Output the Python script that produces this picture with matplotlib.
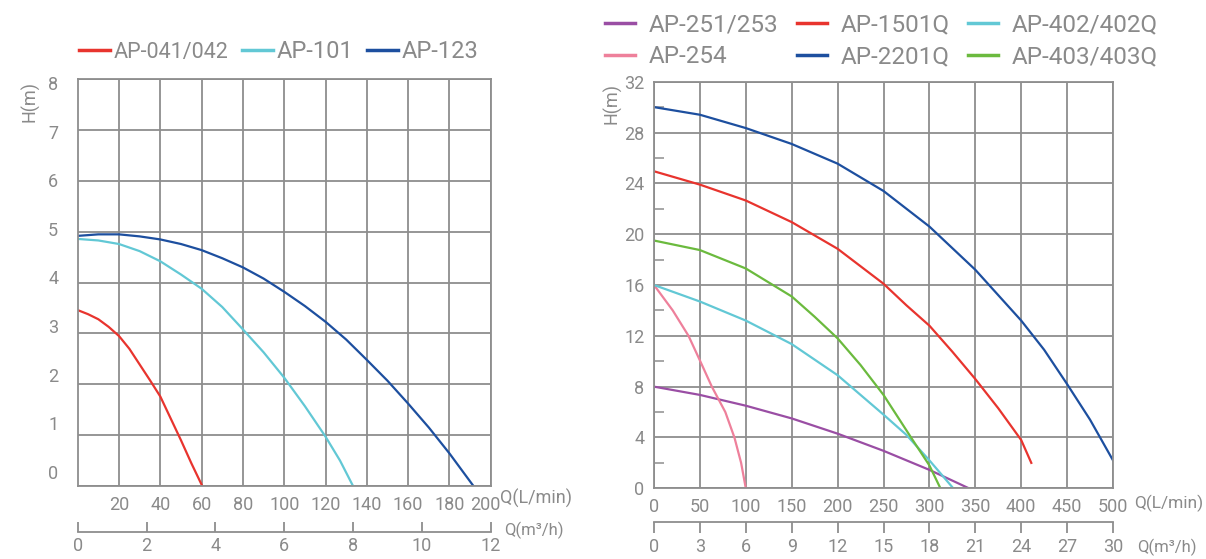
import matplotlib
matplotlib.use("Agg")
import matplotlib.pyplot as plt
import matplotlib.transforms as mtransforms

plt.rcParams['font.family'] = ['Roboto', 'DejaVu Sans']

GRAY_TXT = '#8a8a8a'
GRAY_GRID = '#8e8e8e'

# ---- left chart data (Q in L/min, H in m)
q_041 = [0, 5, 10, 15, 20, 25, 30, 35, 40, 45, 50, 55, 60.3]
h_041 = [3.46, 3.38, 3.28, 3.13, 2.95, 2.70, 2.39, 2.08, 1.76, 1.33, 0.9, 0.45, 0]
q_101 = [0, 10, 20, 30, 40, 50, 60, 70, 80, 90, 100, 110, 120, 127, 133.3]
h_101 = [4.86, 4.83, 4.76, 4.62, 4.42, 4.16, 3.88, 3.52, 3.08, 2.63, 2.13, 1.57, 0.97, 0.5, 0]
q_123 = [0, 10, 20, 30, 40, 50, 60, 70, 80, 90, 100, 110, 120, 130, 140, 150,
         160, 170, 180, 191.6]
h_123 = [4.92, 4.95, 4.95, 4.91, 4.85, 4.76, 4.64, 4.48, 4.30, 4.08, 3.82, 3.54,
         3.23, 2.88, 2.48, 2.07, 1.62, 1.15, 0.64, 0]

# ---- right chart data
q_251 = [0, 50, 100, 150, 200, 250, 300, 343]
h_251 = [8.0, 7.35, 6.5, 5.5, 4.3, 2.95, 1.45, 0]
q_254 = [0, 20.4, 37.6, 50.4, 63, 77.7, 87.6, 94.9, 100]
h_254 = [16.0, 14, 12, 10, 8, 6, 4, 2, 0]
q_1501 = [0, 50, 100, 150, 200, 250, 275, 300, 325, 350, 375, 400, 411]
h_1501 = [24.95, 23.9, 22.65, 20.95, 18.85, 16.1, 14.4, 12.8, 10.75, 8.6, 6.3, 3.8, 2.0]
q_2201 = [0, 50, 100, 150, 200, 250, 300, 350, 400, 425, 450, 475, 500]
h_2201 = [30.0, 29.4, 28.35, 27.1, 25.55, 23.4, 20.6, 17.2, 13.2, 10.9, 8.2, 5.4, 2.2]
q_402 = [0, 50, 100, 150, 200, 250, 275, 300, 326]
h_402 = [16.0, 14.7, 13.2, 11.35, 8.9, 5.8, 4.2, 2.2, 0]
q_403 = [0, 50, 100, 150, 175, 200, 225, 250, 280, 300, 312]
h_403 = [19.5, 18.75, 17.3, 15.1, 13.5, 11.8, 9.7, 7.35, 4.0, 1.8, 0]

left_xticks = [20, 40, 60, 80, 100, 120, 140, 160, 180, 200]
left_yticks = [0, 1, 2, 3, 4, 5, 6, 7, 8]
left_m3h = [0, 2, 4, 6, 8, 10, 12]
right_xticks = [0, 50, 100, 150, 200, 250, 300, 350, 400, 450, 500]
right_yticks = [0, 4, 8, 12, 16, 20, 24, 28, 32]
right_minor = [2, 6, 10, 14, 18, 22, 26, 30]
right_m3h = [0, 3, 6, 9, 12, 15, 18, 21, 24, 27, 30]

RED = '#e8342e'
CYAN = '#62c8d5'
BLUE = '#1d4f9f'
PURPLE = '#9a4ea4'
PINK = '#ee809b'
GREEN = '#6bba3e'
LW = 1.6

W, H = 1206, 559
fig = plt.figure(figsize=(W / 100, H / 100), dpi=100)


def px_box(x0, y0, x1, y1):
    return [x0 / W, 1 - y1 / H, (x1 - x0) / W, (y1 - y0) / H]


def style_main(ax):
    for s in ax.spines.values():
        s.set_color(GRAY_GRID)
        s.set_linewidth(1.3)
    ax.grid(True, color=GRAY_GRID, linewidth=1.3)
    ax.set_axisbelow(True)
    ax.tick_params(which='major', length=0, labelsize=13, labelcolor=GRAY_TXT)


def bottom_scale(box, lim, ticks, direction, length):
    axb = fig.add_axes(box)
    axb.set_facecolor('none')
    for s in ['left', 'right', 'top']:
        axb.spines[s].set_visible(False)
    axb.spines['bottom'].set_color(GRAY_GRID)
    axb.spines['bottom'].set_linewidth(1.3)
    axb.set_xlim(*lim)
    axb.set_yticks([])
    axb.set_xticks(ticks)
    axb.tick_params(axis='x', direction=direction, length=length, width=1.3,
                    color=GRAY_GRID, labelsize=13, labelcolor=GRAY_TXT, pad=4)
    return axb


# ---------------- left chart
ax1 = fig.add_axes(px_box(77.7, 79.3, 490.8, 486))
ax1.plot(q_041, h_041, color=RED, lw=LW, label='AP-041/042')
ax1.plot(q_101, h_101, color=CYAN, lw=LW, label='AP-101')
ax1.plot(q_123, h_123, color=BLUE, lw=LW, label='AP-123')
ax1.set_xlim(0, 200)
ax1.set_ylim(0, 8)
style_main(ax1)
ax1.set_xticks(left_xticks)
ax1.set_yticks(left_yticks)
ax1.set_yticklabels([])
# the value labels in the original sit slightly off the grid lines
lab_pos = [0.28 + 0.956 * v for v in left_yticks]
ax1.set_yticks(lab_pos, [str(v) for v in left_yticks], minor=True)
ax1.tick_params(axis='y', which='minor', length=0, pad=14, labelsize=13, labelcolor=GRAY_TXT)
ax1.tick_params(axis='x', pad=7)
ax1.set_xticks([], minor=True)
# "200" is nudged left of its grid line in the original
last = ax1.get_xticklabels()[-1]
last.set_transform(last.get_transform() +
                   mtransforms.ScaledTranslation(-5 / 100, 0, fig.dpi_scale_trans))

leg1 = ax1.legend(loc='center left', bbox_to_anchor=(79 / W, 1 - 52 / H),
                  bbox_transform=fig.transFigure, ncol=3, frameon=False,
                  fontsize=17, handlelength=1.3, handletextpad=0.15,
                  columnspacing=0.6, borderpad=0, borderaxespad=0)
for t in leg1.get_texts():
    t.set_color(GRAY_TXT)
leg1.get_texts()[0].set_fontsize(15.5)
for l in leg1.get_lines():
    l.set_linewidth(2.5)

fig.text(30 / W, 1 - 102 / H, 'H(m)', rotation=90, ha='center', va='center',
         fontsize=13, color=GRAY_TXT)
fig.text(500 / W, 1 - 498 / H, 'Q(L/min)', ha='left', va='center',
         fontsize=13, color=GRAY_TXT)

bottom_scale(px_box(77.7, 531.6, 490.8, 531.7), (0, 12), left_m3h, 'in', 7)
fig.text(504 / W, 1 - 530 / H, 'Q(m³/h)', ha='left', va='center',
         fontsize=12, color=GRAY_TXT)

# ---------------- right chart
ax2 = fig.add_axes(px_box(654, 81.7, 1113, 488.3))
ax2.plot(q_251, h_251, color=PURPLE, lw=LW, label='AP-251/253')
ax2.plot(q_254, h_254, color=PINK, lw=LW, label='AP-254')
ax2.plot(q_1501, h_1501, color=RED, lw=LW, label='AP-1501Q')
ax2.plot(q_2201, h_2201, color=BLUE, lw=LW, label='AP-2201Q')
ax2.plot(q_402, h_402, color=CYAN, lw=LW, label='AP-402/402Q')
ax2.plot(q_403, h_403, color=GREEN, lw=LW, label='AP-403/403Q')
ax2.set_xlim(0, 500)
ax2.set_ylim(0, 32)
style_main(ax2)
ax2.set_xticks(right_xticks)
ax2.set_yticks(right_yticks)
ax2.set_yticks(right_minor, minor=True)
ax2.tick_params(axis='y', which='minor', direction='in', length=7, width=1.1,
                color=GRAY_GRID)
ax2.tick_params(axis='y', which='major', pad=7)
ax2.tick_params(axis='x', pad=7)

leg2 = ax2.legend(loc='center left', bbox_to_anchor=(605 / W, 1 - 41 / H),
                  bbox_transform=fig.transFigure, ncol=3, frameon=False,
                  fontsize=17.5, handlelength=1.25, handletextpad=0.55,
                  columnspacing=0.75, labelspacing=0.35, borderpad=0,
                  borderaxespad=0)
for t in leg2.get_texts():
    t.set_color(GRAY_TXT)
for l in leg2.get_lines():
    l.set_linewidth(2.5)

fig.text(612 / W, 1 - 104 / H, 'H(m)', rotation=90, ha='center', va='center',
         fontsize=13, color=GRAY_TXT)
fig.text(1134 / W, 1 - 503 / H, 'Q(L/min)', ha='left', va='center',
         fontsize=12.5, color=GRAY_TXT)

bottom_scale(px_box(654, 521.6, 1113, 521.7), (0, 30), right_m3h, 'out', 8)
fig.text(1137 / W, 1 - 547 / H, 'Q(m³/h)', ha='left', va='center',
         fontsize=12, color=GRAY_TXT)

fig.savefig('out.png', dpi=100)
